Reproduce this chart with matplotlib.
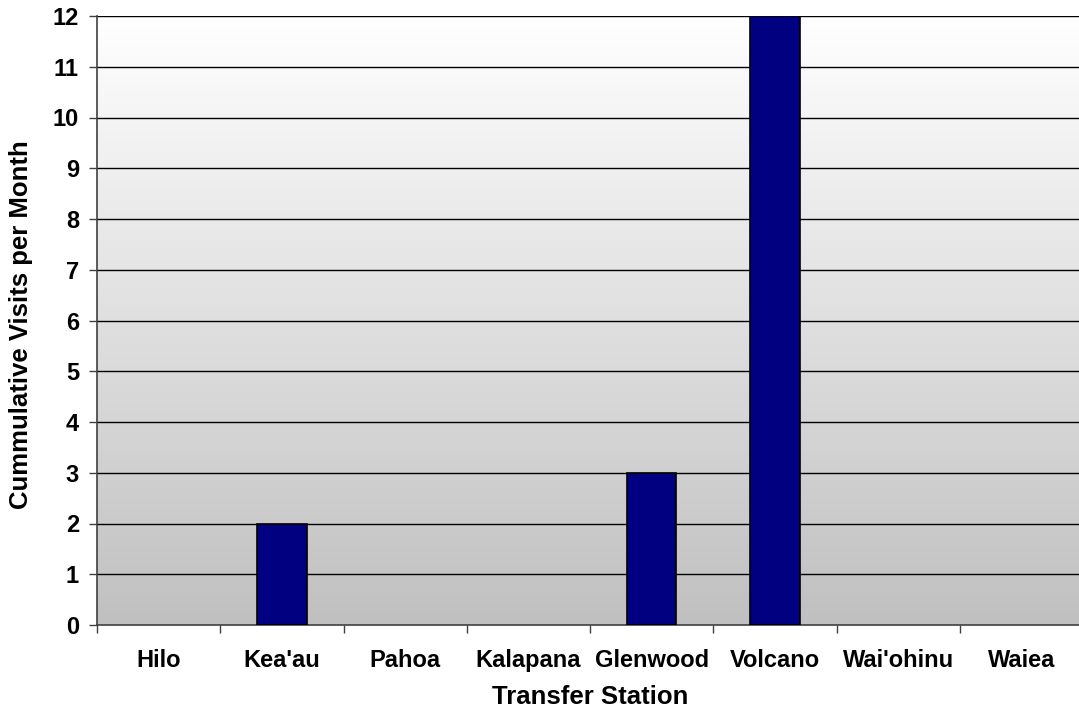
import numpy as np
import matplotlib
matplotlib.use("Agg")
import matplotlib.pyplot as plt

stations = ["Hilo", "Kea'au", "Pahoa", "Kalapana", "Glenwood", "Volcano", "Wai'ohinu", "Waiea"]
visits = [0, 2, 0, 0, 3, 12, 0, 0]
y_ticks = list(range(0, 13))

plt.rcParams['font.family'] = ['Liberation Sans', 'DejaVu Sans']
plt.rcParams['font.weight'] = 'bold'

W, H = 1079, 711
fig = plt.figure(figsize=(W / 100, H / 100), dpi=100)
left, right, top, bottom = 97, 1083, 16, 625
ax = fig.add_axes([left / W, 1 - bottom / H, (right - left) / W, (bottom - top) / H])

# vertical gradient background: white at the top to silver at the bottom
grad = np.linspace(0, 1, 256).reshape(-1, 1)
cmap = matplotlib.colors.LinearSegmentedColormap.from_list("bg", ["#c0c0c0", "#ffffff"])
ax.imshow(grad, aspect='auto', cmap=cmap, origin='lower',
          extent=[-0.5, len(stations) - 0.5, 0, 12], zorder=0)

x = np.arange(len(stations))
edge_widths = [1.2 if v > 0 else 0 for v in visits]
ax.bar(x, visits, width=0.4, color="#000080", edgecolor="black",
       linewidth=edge_widths, zorder=3)

ax.set_xlim(-0.5, len(stations) - 0.5)
ax.set_ylim(0, 12)
ax.set_yticks(y_ticks)
ax.set_yticklabels([str(v) for v in y_ticks], fontsize=17, fontweight='bold')
for v in y_ticks[1:]:
    ax.axhline(v, color="#000000", linewidth=1.0, zorder=2)

ax.set_xticks(x)
ax.set_xticklabels(stations, fontsize=17, fontweight='bold')
ax.set_xticks(np.arange(-0.5, len(stations)), minor=True)
ax.tick_params(axis='x', which='major', length=0, pad=17)
ax.tick_params(axis='x', which='minor', length=6, width=1, color="#404040", direction='out')
ax.tick_params(axis='y', length=6, width=1, color="#404040", direction='out', pad=7)

for side in ['top', 'right']:
    ax.spines[side].set_visible(False)
ax.spines['left'].set_color("#404040")
ax.spines['bottom'].set_color("#404040")
ax.spines['left'].set_linewidth(1.2)
ax.spines['bottom'].set_linewidth(1.2)

ax.set_xlabel("Transfer Station", fontsize=18.5, fontweight='bold', labelpad=10)
ax.set_ylabel("Cummulative Visits per Month", fontsize=18.5, fontweight='bold')
ax.yaxis.set_label_coords(-0.065, 0.493)

fig.savefig("out.png", dpi=100)
